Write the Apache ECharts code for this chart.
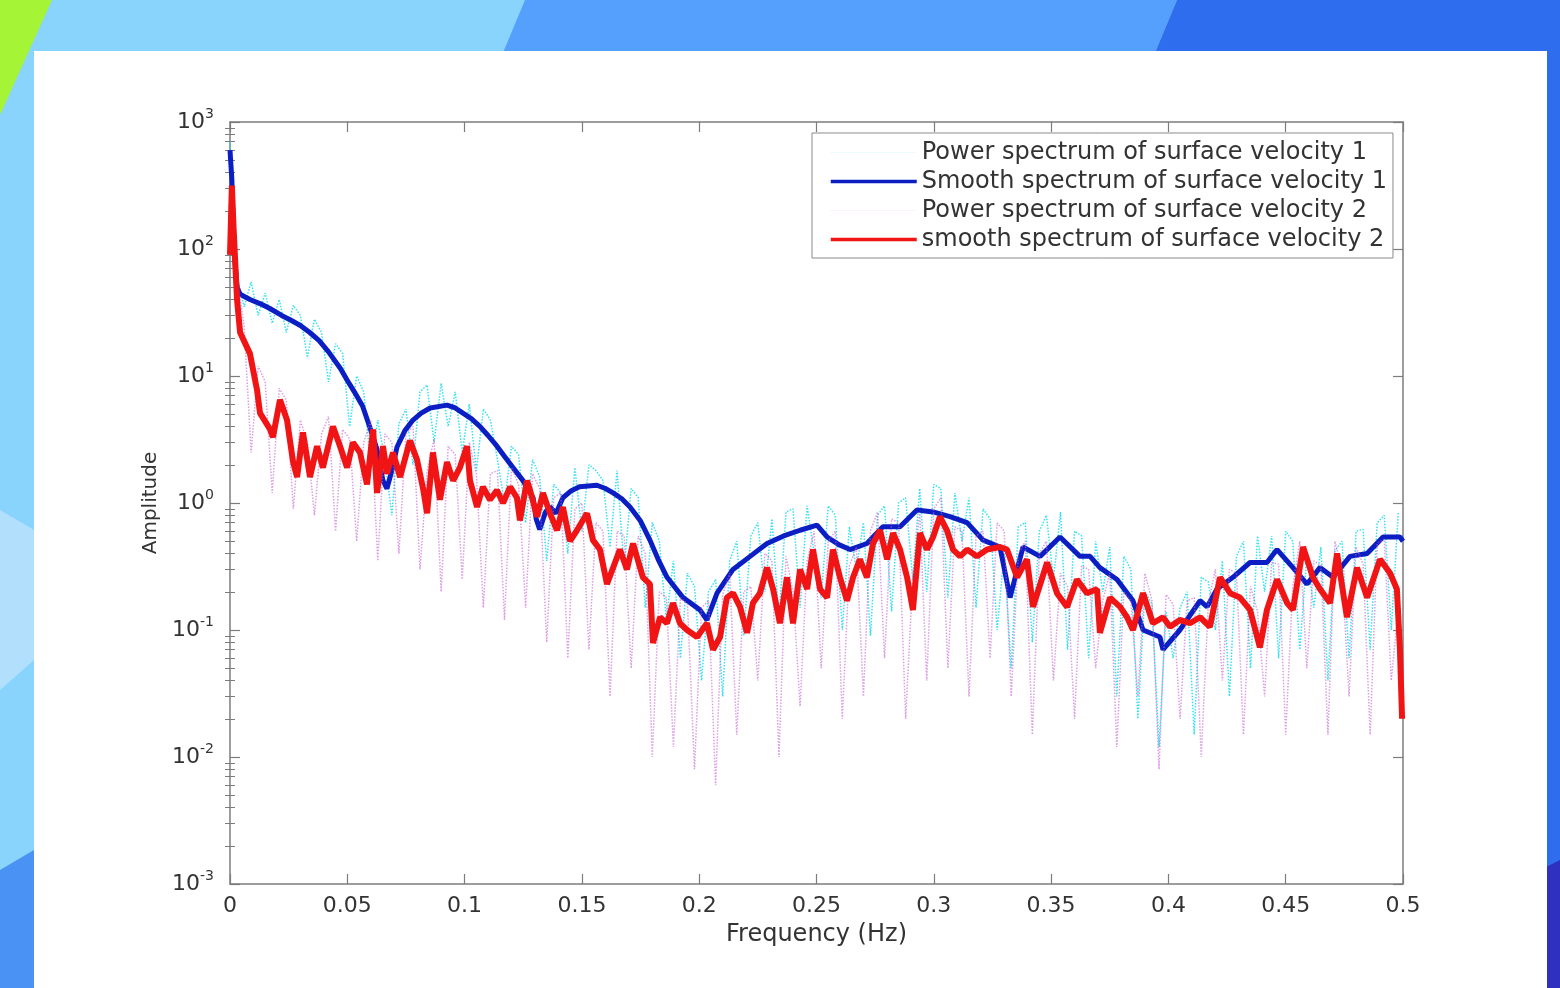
<!DOCTYPE html>
<html>
<head>
<meta charset="utf-8">
<title>Surface velocity spectrum</title>
<script src="https://cdn.jsdelivr.net/npm/echarts@6.0.0/dist/echarts.min.js"></script>
<style>
html, body { margin: 0; padding: 0; width: 1560px; height: 988px; overflow: hidden; background: #88d4fc; }
.band { position: absolute; left: 0; top: 0; width: 1560px; height: 988px; }
#card { position: absolute; left: 34px; top: 51px; width: 1513px; height: 937px; background: #fff; }
#chart { position: absolute; left: 0; top: 0; width: 1560px; height: 988px; }
</style>
</head>
<body>
<div class="band" style="background:#a6f436;clip-path:polygon(0 0,52px 0,0 115px)"></div>
<div class="band" style="background:#55a0fc;clip-path:polygon(525px 0,1177px 0,1152px 60px,500px 60px)"></div>
<div class="band" style="background:#2f6def;clip-path:polygon(1177px 0,1560px 0,1560px 988px,1152px 988px,1152px 60px)"></div>
<div class="band" style="background:#3030c0;clip-path:polygon(1540px 870px,1560px 860px,1560px 988px,1540px 988px)"></div>
<div class="band" style="background:#b2e0fc;clip-path:polygon(0 510px,34px 530px,34px 660px,0 690px)"></div>
<div class="band" style="background:#4a92f4;clip-path:polygon(0 870px,34px 850px,34px 988px,0 988px)"></div>
<div id="card"></div>
<div id="chart"></div>
<script>
var chart = echarts.init(document.getElementById("chart"));
var FONT = "DejaVu Sans";

// raw power spectra, one value per frequency bin (bin width RAW_STEP Hz)
var RAW_STEP = 0.003;

let rawPower1 = [
  700, 60, 35, 55, 30, 45, 26, 40, 22, 36,
  30, 14, 28, 22, 9, 18, 15, 4, 10, 7.5,
  2, 4.5, 2.2, 0.8, 4.2, 5.5, 2, 7.5, 8.5, 3,
  8.8, 4, 7.5, 2.5, 6, 1.8, 5.5, 4.5, 2.2, 1.0,
  2.8, 2.4, 0.7, 2.2, 1.6, 0.35, 1.4, 1.2, 0.4, 1.9,
  0.6, 2.0, 1.8, 1.5, 0.45, 1.8, 0.3, 1.3, 1.1, 0.15,
  0.7, 0.5, 0.12, 0.35, 0.06, 0.28, 0.22, 0.04, 0.2, 0.25,
  0.03, 0.35, 0.5, 0.09, 0.55, 0.7, 0.2, 0.75, 0.12, 0.85,
  0.9, 0.15, 0.95, 0.4, 0.18, 0.95, 0.8, 0.1, 0.65, 0.3,
  0.7, 0.09, 0.8, 0.95, 0.14, 1.0, 1.1, 0.25, 1.3, 0.2,
  1.4, 1.3, 0.18, 1.2, 0.5, 1.1, 0.15, 0.9, 0.75, 0.1,
  0.4, 0.05, 0.65, 0.7, 0.08, 0.6, 0.8, 0.25, 0.85, 0.07,
  0.6, 0.55, 0.06, 0.5, 0.2, 0.45, 0.03, 0.38, 0.3, 0.02,
  0.2, 0.16, 0.012, 0.14, 0.06, 0.15, 0.2, 0.015, 0.26, 0.24,
  0.1, 0.35, 0.03, 0.38, 0.5, 0.05, 0.55, 0.2, 0.55, 0.06,
  0.6, 0.5, 0.07, 0.38, 0.15, 0.45, 0.04, 0.42, 0.5, 0.06,
  0.6, 0.62, 0.07, 0.7, 0.8, 0.1, 0.85
];

let rawPower2 = [
  300, 60, 25, 2.5, 12, 9, 1.2, 8, 6.5, 0.9,
  4.5, 3, 0.8, 3.5, 4.8, 0.6, 3.8, 3.2, 0.5, 3,
  4.5, 0.35, 3.5, 3, 0.4, 3.5, 4, 0.3, 1.8, 3.2,
  0.2, 2.8, 2.4, 0.25, 3, 1.7, 0.15, 1.7, 1.8, 0.12,
  1.9, 1.4, 0.15, 1.7, 1.3, 0.08, 1.1, 1.2, 0.06, 0.9,
  1.0, 0.07, 0.7, 0.6, 0.03, 0.6, 0.55, 0.05, 0.55, 0.4,
  0.01, 0.2, 0.18, 0.012, 0.18, 0.16, 0.008, 0.15, 0.17, 0.006,
  0.19, 0.28, 0.015, 0.2, 0.22, 0.04, 0.4, 0.35, 0.01, 0.38,
  0.2, 0.025, 0.35, 0.6, 0.05, 0.5, 0.6, 0.02, 0.32, 0.45,
  0.03, 0.6, 0.85, 0.06, 0.75, 0.7, 0.02, 0.25, 0.85, 0.04,
  0.9, 1.1, 0.05, 0.65, 0.6, 0.03, 0.55, 0.6, 0.06, 0.7,
  0.6, 0.03, 0.4, 0.5, 0.015, 0.4, 0.5, 0.04, 0.28, 0.22,
  0.02, 0.32, 0.3, 0.05, 0.17, 0.28, 0.012, 0.2, 0.17, 0.03,
  0.28, 0.17, 0.008, 0.19, 0.16, 0.02, 0.17, 0.18, 0.01, 0.16,
  0.3, 0.04, 0.3, 0.28, 0.015, 0.22, 0.14, 0.03, 0.34, 0.33,
  0.015, 0.22, 0.5, 0.05, 0.35, 0.32, 0.015, 0.5, 0.3, 0.03,
  0.45, 0.33, 0.015, 0.48, 0.52, 0.04, 0.15
];

// smoothed spectra, [frequency (Hz), amplitude]
let smooth1 = [
  [0, 600], [0.0008, 350], [0.0015, 110], [0.003, 50], [0.0043, 44], [0.0085, 40],
  [0.013, 37], [0.017, 34], [0.022, 30], [0.026, 27.5], [0.030, 25], [0.034, 22],
  [0.038, 19], [0.042, 15.5], [0.047, 11.5], [0.0499, 9.3], [0.053, 7.5], [0.0565, 5.8],
  [0.0597, 3.9], [0.0625, 2.7], [0.0652, 1.5], [0.0669, 1.3], [0.069, 1.8], [0.0712, 2.76],
  [0.0745, 3.7], [0.078, 4.5], [0.0815, 5.1], [0.0853, 5.6], [0.0925, 5.9], [0.096, 5.6],
  [0.0993, 5.1], [0.103, 4.6], [0.1066, 4.0], [0.110, 3.4], [0.1138, 2.8], [0.1172, 2.3],
  [0.1206, 1.9], [0.1249, 1.5], [0.1292, 1.1], [0.1305, 0.75], [0.132, 0.62], [0.1345, 0.85],
  [0.1364, 0.93], [0.139, 0.83], [0.1419, 1.1], [0.1455, 1.25], [0.149, 1.34], [0.1564, 1.38],
  [0.160, 1.3], [0.1633, 1.2], [0.167, 1.08], [0.1705, 0.93], [0.175, 0.72], [0.179, 0.51],
  [0.1825, 0.36], [0.1863, 0.26], [0.1931, 0.18], [0.2003, 0.144], [0.2033, 0.12], [0.2076, 0.195],
  [0.2144, 0.30], [0.2217, 0.38], [0.2289, 0.48], [0.236, 0.55], [0.243, 0.61], [0.2502, 0.67],
  [0.2545, 0.54], [0.2595, 0.47], [0.2643, 0.43], [0.2715, 0.48], [0.2783, 0.65], [0.2856, 0.65],
  [0.2928, 0.88], [0.2997, 0.85], [0.3069, 0.78], [0.3142, 0.70], [0.321, 0.51], [0.3282, 0.45],
  [0.3325, 0.18], [0.338, 0.45], [0.3453, 0.38], [0.3538, 0.54], [0.3623, 0.38], [0.3666, 0.38],
  [0.3708, 0.31], [0.3781, 0.25], [0.3849, 0.17], [0.3892, 0.10], [0.3964, 0.088], [0.3977, 0.07],
  [0.4049, 0.10], [0.4135, 0.17], [0.4165, 0.152], [0.4207, 0.21], [0.4275, 0.26], [0.4348, 0.34],
  [0.442, 0.34], [0.4463, 0.43], [0.4531, 0.31], [0.4591, 0.23], [0.4646, 0.31], [0.4702, 0.26],
  [0.4774, 0.38], [0.4847, 0.40], [0.4915, 0.54], [0.4987, 0.54], [0.5, 0.5]
];

let smooth2 = [
  [0, 90], [0.0008, 316], [0.0015, 150], [0.003, 40], [0.0043, 22], [0.0085, 15],
  [0.0115, 7.8], [0.0128, 5.1], [0.0171, 3.8], [0.0183, 3.3], [0.0213, 6.5], [0.0243, 4.5],
  [0.0269, 2.1], [0.0286, 1.6], [0.0311, 3.6], [0.0341, 1.6], [0.0371, 2.8], [0.0396, 1.9],
  [0.0439, 4.0], [0.0469, 2.8], [0.0499, 1.9], [0.0524, 3.0], [0.0554, 2.5], [0.0584, 1.4],
  [0.061, 3.8], [0.0627, 1.2], [0.0652, 2.8], [0.0669, 1.7], [0.0695, 2.5], [0.0725, 1.6],
  [0.0767, 3.1], [0.0797, 2.2], [0.0823, 1.3], [0.084, 0.83], [0.0865, 2.5], [0.0895, 1.06],
  [0.0925, 2.1], [0.0951, 1.5], [0.098, 1.9], [0.101, 2.8], [0.1023, 1.5], [0.1053, 0.93],
  [0.1078, 1.34], [0.1108, 1.06], [0.1138, 1.26], [0.1164, 1.0], [0.1194, 1.34], [0.1223, 1.1],
  [0.1236, 0.73], [0.1266, 1.5], [0.1279, 1.26], [0.1309, 0.78], [0.1334, 1.2], [0.1364, 0.83],
  [0.1394, 0.61], [0.1419, 0.93], [0.1449, 0.5], [0.1479, 0.61], [0.1522, 0.83], [0.1547, 0.51],
  [0.1577, 0.43], [0.1607, 0.23], [0.1662, 0.43], [0.1692, 0.30], [0.1718, 0.48], [0.176, 0.26],
  [0.179, 0.23], [0.1803, 0.079], [0.1833, 0.126], [0.1863, 0.113], [0.1888, 0.163], [0.1918, 0.113],
  [0.1948, 0.10], [0.1991, 0.088], [0.2033, 0.113], [0.2059, 0.070], [0.2089, 0.088], [0.2118, 0.18],
  [0.2144, 0.195], [0.2174, 0.152], [0.2204, 0.095], [0.2229, 0.163], [0.2259, 0.195], [0.2289, 0.31],
  [0.2315, 0.21], [0.2344, 0.113], [0.2374, 0.26], [0.24, 0.113], [0.243, 0.30], [0.246, 0.21],
  [0.2485, 0.43], [0.2515, 0.21], [0.2545, 0.18], [0.257, 0.43], [0.26, 0.26], [0.263, 0.17],
  [0.2656, 0.26], [0.2685, 0.36], [0.2715, 0.26], [0.2741, 0.48], [0.2771, 0.61], [0.2801, 0.36],
  [0.2826, 0.58], [0.2856, 0.43], [0.2886, 0.26], [0.2911, 0.144], [0.2941, 0.58], [0.2971, 0.43],
  [0.2997, 0.54], [0.3026, 0.78], [0.3056, 0.61], [0.3082, 0.43], [0.3112, 0.38], [0.3142, 0.43],
  [0.3184, 0.38], [0.3227, 0.43], [0.3282, 0.45], [0.3312, 0.43], [0.3355, 0.26], [0.3397, 0.36],
  [0.3423, 0.152], [0.3483, 0.34], [0.3525, 0.195], [0.3568, 0.152], [0.361, 0.25], [0.3653, 0.195],
  [0.3696, 0.21], [0.3708, 0.095], [0.3751, 0.18], [0.3794, 0.152], [0.3824, 0.126], [0.3849, 0.10],
  [0.3892, 0.195], [0.3934, 0.113], [0.3977, 0.126], [0.4007, 0.106], [0.4049, 0.12], [0.4092, 0.113],
  [0.4135, 0.126], [0.4177, 0.106], [0.422, 0.26], [0.4263, 0.195], [0.4305, 0.18], [0.4348, 0.144],
  [0.439, 0.073], [0.442, 0.144], [0.4463, 0.25], [0.4506, 0.163], [0.4531, 0.144], [0.4574, 0.45],
  [0.4616, 0.26], [0.4646, 0.21], [0.4689, 0.163], [0.4719, 0.40], [0.4761, 0.126], [0.4804, 0.31],
  [0.4847, 0.18], [0.4902, 0.36], [0.4945, 0.28], [0.4974, 0.21], [0.4987, 0.07], [0.4996, 0.02]
];

let seriesNames = [
  "Power spectrum of surface velocity 1",
  "Smooth spectrum of surface velocity 1",
  "Power spectrum of surface velocity 2",
  "smooth spectrum of surface velocity 2"
];

function binned(values) {
  return values.map(function (v, i) { return [i * RAW_STEP, v]; });
}

// minor ticks of the log axis (2..9 in each decade), as exponents
var minorTicks = [];
for (var e = -3; e < 3; e++) {
  for (var k = 2; k <= 9; k++) minorTicks.push(e + Math.log10(k));
}

var axisColor = "#7c7c7c";
var boxX = {
  type: "value", min: 0, max: 0.5, interval: 0.05,
  axisLine: { show: true, onZero: false, lineStyle: { color: axisColor, width: 1.5 } },
  axisTick: { inside: true, length: 10, lineStyle: { color: axisColor, width: 1.2 } },
  splitLine: { show: false }
};
var boxY = {
  type: "log", logBase: 10, min: 0.001, max: 1000, splitNumber: 6,
  axisLine: { show: true, onZero: false, lineStyle: { color: axisColor, width: 1.5 } },
  axisTick: { inside: true, length: 10, lineStyle: { color: axisColor, width: 1.2 } },
  splitLine: { show: false }
};
var minorY = {
  type: "value", min: -3, max: 3,
  axisLine: { show: false },
  axisLabel: { show: false },
  axisTick: { show: true, inside: true, length: 5, customValues: minorTicks, lineStyle: { color: axisColor, width: 1 } },
  splitLine: { show: false }
};

var hiddenMark = { opacity: 0 };

chart.setOption({
  animation: false,
  textStyle: { fontFamily: FONT },
  grid: { left: 230, right: 157, top: 122, bottom: 104 },
  legend: {
    orient: "vertical",
    left: 812,
    top: 133,
    padding: [5, 6, 4, 17],
    itemGap: 0,
    itemWidth: 86,
    itemHeight: 14,
    backgroundColor: "#fff",
    borderColor: "#8a8a8a",
    borderWidth: 1,
    itemStyle: hiddenMark,
    textStyle: { fontFamily: FONT, fontSize: 24, color: "#333", lineHeight: 29 },
    data: [
      { name: seriesNames[0], itemStyle: hiddenMark, lineStyle: { width: 1, opacity: 0.15 } },
      { name: seriesNames[1], itemStyle: hiddenMark, lineStyle: { width: 3.5 } },
      { name: seriesNames[2], itemStyle: hiddenMark, lineStyle: { width: 1, opacity: 0.15 } },
      { name: seriesNames[3], itemStyle: hiddenMark, lineStyle: { width: 3.5 } }
    ]
  },
  xAxis: [
    Object.assign({}, boxX, {
      position: "bottom",
      axisLabel: { color: "#333", fontFamily: FONT, fontSize: 22, margin: 11 },
      name: "Frequency (Hz)",
      nameLocation: "middle",
      nameGap: 39,
      nameTextStyle: { color: "#333", fontFamily: FONT, fontSize: 24 }
    }),
    Object.assign({}, boxX, { position: "top", axisLabel: { show: false } })
  ],
  yAxis: [
    Object.assign({}, boxY, {
      position: "left",
      axisLabel: {
        margin: 16,
        formatter: function (v) {
          return "{b|10}{s|" + Math.round(Math.log10(v)) + "}";
        },
        rich: {
          b: { fontFamily: FONT, fontSize: 22, color: "#333", lineHeight: 30 },
          s: { fontFamily: FONT, fontSize: 14, color: "#333", lineHeight: 15, verticalAlign: "top" }
        }
      },
      name: "Amplitude",
      nameLocation: "middle",
      nameGap: 67,
      nameTextStyle: { color: "#333", fontFamily: FONT, fontSize: 20 }
    }),
    Object.assign({}, boxY, { position: "right", axisLabel: { show: false } }),
    Object.assign({}, minorY, { position: "left" }),
    Object.assign({}, minorY, { position: "right" })
  ],
  series: [
    {
      name: seriesNames[0], type: "line", data: binned(rawPower1), symbol: "none",
      color: "#10dcee", lineStyle: { type: "dotted", width: 1.5, opacity: 0.85 }, silent: true
    },
    {
      name: seriesNames[1], type: "line", data: smooth1, symbol: "none",
      color: "#0b1ec4", lineStyle: { width: 5 }
    },
    {
      name: seriesNames[2], type: "line", data: binned(rawPower2), symbol: "none",
      color: "#c45cd2", lineStyle: { type: "dotted", width: 1.5, opacity: 0.6 }, silent: true
    },
    {
      name: seriesNames[3], type: "line", data: smooth2, symbol: "none",
      color: "#f01414", lineStyle: { width: 6 }
    }
  ]
});
</script>
</body>
</html>
